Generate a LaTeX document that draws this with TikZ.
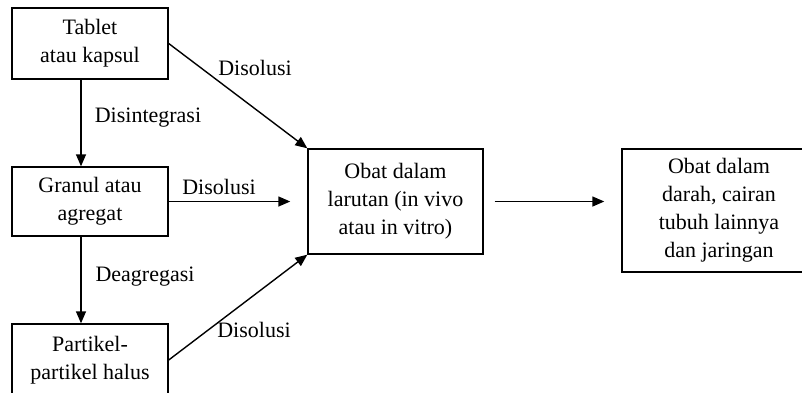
\documentclass[tikz,border=0pt]{standalone}
\usepackage{fontspec}
\setmainfont{Liberation Serif}
\usetikzlibrary{arrows.meta}
\begin{document}
\begin{tikzpicture}[x=1pt, y=-1pt, line width=1.4pt,
		box/.style={draw, align=center, inner sep=0pt, font=\fontsize{22}{28}\selectfont},
		lbl/.style={font=\fontsize{22}{28}\selectfont},
		arr/.style={-{Triangle[length=12pt, width=10pt]}}]
		\clip (0,0) rectangle (802,392);
		%\draw[help lines] (0,0) grid[step=50] (802,392);
		
		\node[box, minimum width=156pt, minimum height=71pt] (tablet) at (90, 43.5) {Tablet\\atau kapsul};
		\node[box, minimum width=156pt, minimum height=69pt] (granul) at (90, 201.5) {Granul atau\\agregat};
		\node[box, minimum width=156pt, minimum height=72pt] (partikel) at (90, 360) {Partikel-\\partikel halus};
		\node[box, minimum width=175pt, minimum height=105pt] (larutan) at (395.5, 201.5) {Obat dalam\\larutan (in vivo\\atau in vitro)};
		\node[box, minimum width=194pt, minimum height=123pt] (darah) at (719, 210.5) {Obat dalam\\darah, cairan\\tubuh lainnya\\dan jaringan};
		
		\draw[arr] ([xshift=-9pt]tablet.south) -- ([xshift=-9pt]granul.north);
		\draw[arr] ([xshift=-9pt]granul.south) -- ([xshift=-9pt]partikel.north);
		\draw[arr] (tablet.east) -- (larutan.north west);
		\draw[arr, shorten >=17pt] (granul.east) -- (granul.east -| larutan.west);
		\draw[arr] (partikel.east) -- (larutan.south west);
		\draw[arr, shorten <=11pt, shorten >=17pt] (larutan.east) -- (larutan.east -| darah.west);
		
		\foreach \n\s\x\y in {d1/Disolusi/255/68, d2/Disolusi/219/187, d3/Disolusi/254/330,
			dis/Disintegrasi/148/118, dea/Deagregasi/145/277}
		\node[lbl] (\n) at (\x, \y) {\s};
	\end{tikzpicture}
\end{document}
